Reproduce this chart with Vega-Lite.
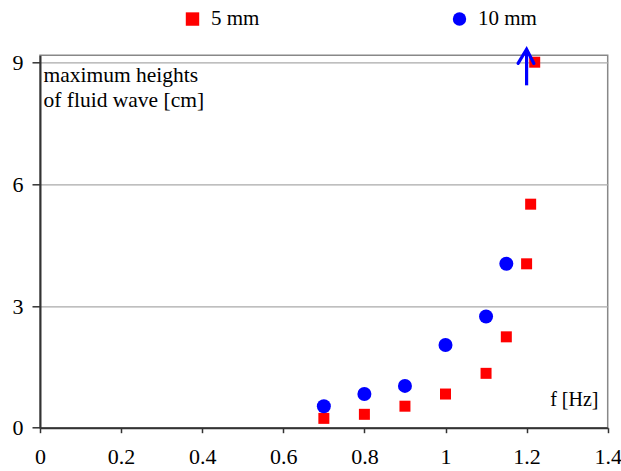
{
  "$schema": "https://vega.github.io/schema/vega-lite/v6.json",
  "width": 567.7,
  "height": 372.4,
  "autosize": {"type": "none"},
  "padding": {"left": 40, "top": 55.3, "right": 13.3, "bottom": 43.3},
  "background": "white",
  "config": {
    "view": {"stroke": "#888888", "strokeWidth": 1.5},
    "font": "Liberation Serif",
    "text": {"font": "Liberation Serif"},
    "legend": {"labelFont": "Liberation Serif"},
    "axis": {
      "domainColor": "#333333",
      "domainWidth": 2,
      "tickColor": "#333333",
      "tickWidth": 1.5,
      "labelColor": "black",
      "labelFont": "Liberation Serif",
      "titleFont": "Liberation Serif",
      "titleColor": "black",
      "titleFontWeight": "normal",
      "gridColor": "#aaaaaa",
      "gridWidth": 1.3
    }
  },
  "datasets": {
    "pts": [
      {"f": 0.7, "h": 0.23, "series": "5 mm"},
      {"f": 0.8, "h": 0.33, "series": "5 mm"},
      {"f": 0.9, "h": 0.53, "series": "5 mm"},
      {"f": 1.0, "h": 0.83, "series": "5 mm"},
      {"f": 1.1, "h": 1.34, "series": "5 mm"},
      {"f": 1.15, "h": 2.24, "series": "5 mm"},
      {"f": 1.2, "h": 4.04, "series": "5 mm"},
      {"f": 1.21, "h": 5.51, "series": "5 mm"},
      {"f": 1.22, "h": 9.01, "series": "5 mm"},
      {"f": 0.7, "h": 0.53, "series": "10 mm"},
      {"f": 0.8, "h": 0.83, "series": "10 mm"},
      {"f": 0.9, "h": 1.03, "series": "10 mm"},
      {"f": 1.0, "h": 2.04, "series": "10 mm"},
      {"f": 1.1, "h": 2.74, "series": "10 mm"},
      {"f": 1.15, "h": 4.04, "series": "10 mm"}
    ],
    "shaft": [
      {"f": 1.2, "h": 8.44, "h2": 9.28}
    ],
    "head": [
      {"f": 1.179, "h": 8.98, "k": 1},
      {"f": 1.2, "h": 9.33, "k": 2},
      {"f": 1.218, "h": 8.98, "k": 3}
    ]
  },
  "layer": [
    {
      "data": {"name": "pts"},
      "mark": {"type": "point", "filled": true, "opacity": 1, "strokeWidth": 0},
      "encoding": {
        "x": {
          "field": "f",
          "type": "quantitative",
          "scale": {"domain": [0, 1.4], "nice": false, "zero": false},
          "axis": {
            "values": [0, 0.2, 0.4, 0.6, 0.8, 1, 1.2, 1.4],
            "format": "~g",
            "grid": false,
            "tickSize": 5,
            "labelFontSize": 22,
            "labelPadding": 14,
            "labelDx": -2,
            "labelFlush": false,
            "labelOverlap": false,
            "title": "f [Hz]",
            "titleFontSize": 20,
            "titleAngle": 0,
            "titleAlign": "right",
            "titleBaseline": "alphabetic",
            "titleAnchor": null,
            "titleX": 558,
            "titleY": -21.7
          }
        },
        "y": {
          "field": "h",
          "type": "quantitative",
          "scale": {"domain": [0, 9.18], "nice": false, "zero": false},
          "axis": {
            "values": [0, 3, 6, 9],
            "grid": true,
            "tickSize": 8,
            "labelFontSize": 22,
            "labelPadding": 9,
            "labelFlush": false,
            "labelOverlap": false,
            "title": ["maximum heights", "of fluid wave [cm]"],
            "titleFontSize": 21.5,
            "titleAngle": 0,
            "titleAlign": "left",
            "titleBaseline": "alphabetic",
            "titleAnchor": null,
            "titleLineHeight": 25,
            "titleX": 3,
            "titleY": 26.4
          }
        },
        "color": {
          "field": "series",
          "type": "nominal",
          "scale": {"domain": ["5 mm", "10 mm"], "range": ["#ff0000", "#0000ff"]},
          "legend": {
            "orient": "none",
            "legendX": 142,
            "legendY": -47,
            "direction": "horizontal",
            "title": null,
            "symbolSize": 180,
            "symbolStrokeWidth": 0,
            "symbolOpacity": 1,
            "labelFontSize": 21,
            "labelFont": "Liberation Serif",
            "labelColor": "black",
            "labelOffset": 8,
            "columnPadding": 189
          }
        },
        "shape": {
          "field": "series",
          "type": "nominal",
          "scale": {"domain": ["5 mm", "10 mm"], "range": ["square", "circle"]},
          "legend": {
            "orient": "none",
            "legendX": 142,
            "legendY": -47,
            "direction": "horizontal",
            "title": null,
            "symbolSize": 180,
            "symbolStrokeWidth": 0,
            "symbolOpacity": 1,
            "labelFontSize": 21,
            "labelFont": "Liberation Serif",
            "labelColor": "black",
            "labelOffset": 8,
            "columnPadding": 189
          }
        },
        "size": {
          "condition": {"test": "datum.series === '5 mm'", "value": 121},
          "value": 196
        }
      }
    },
    {
      "data": {"name": "shaft"},
      "mark": {"type": "rule", "color": "#0000ff", "strokeWidth": 3.2},
      "encoding": {
        "x": {"field": "f", "type": "quantitative"},
        "y": {"field": "h", "type": "quantitative"},
        "y2": {"field": "h2"}
      }
    },
    {
      "data": {"name": "head"},
      "mark": {"type": "line", "color": "#0000ff", "strokeWidth": 3.2, "strokeCap": "round", "strokeJoin": "miter"},
      "encoding": {
        "x": {"field": "f", "type": "quantitative"},
        "y": {"field": "h", "type": "quantitative"},
        "order": {"field": "k", "type": "quantitative"}
      }
    }
  ]
}
